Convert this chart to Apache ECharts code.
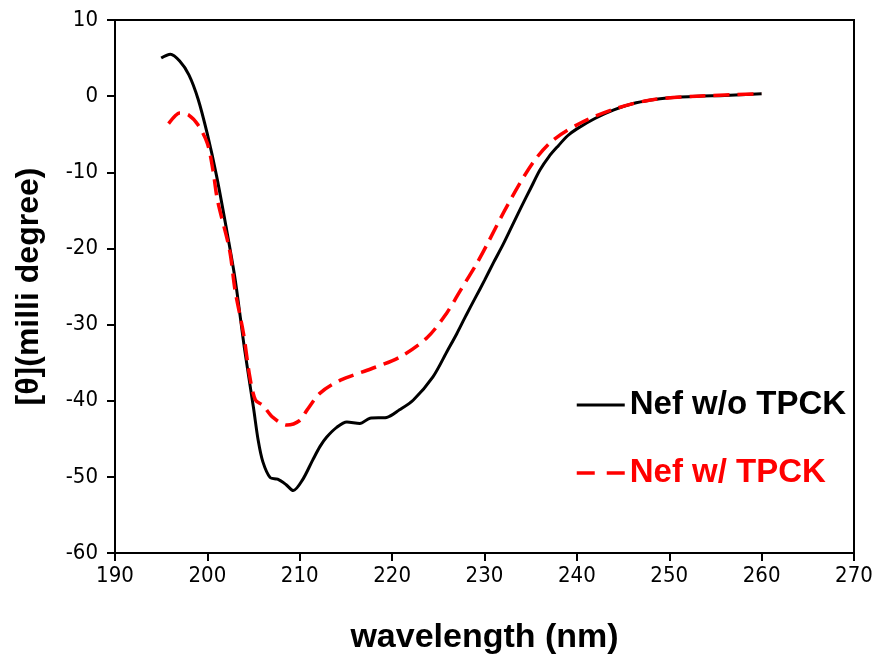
<!DOCTYPE html>
<html>
<head>
<meta charset="utf-8">
<script src="https://cdn.jsdelivr.net/npm/echarts@6/dist/echarts.min.js"></script>
<style>
html,body{margin:0;padding:0;background:#fff;}
#chart{width:883px;height:662px;}
</style>
</head>
<body>
<div id="chart"></div>
<script>
// Wavelength (nm) and ellipticity values
const blackWavelength = [195,196,197,198,199,200,201,202,203,204,205,205.5,206,206.8,207.6,208.5,209.3,210.3,211.4,212.2,212.9,214,215.1,216.5,217.6,219.4,220.8,222.3,224.4,226,227,228,229,230,231,232,233,234,235,236,237,238,239,240,242,244,246,248,250,253,256,260];
const blackValues = [5.0,5.5,4.6,2.8,-0.4,-5.0,-10.5,-17.0,-24.0,-33.0,-41.0,-45.2,-48.0,-50.1,-50.3,-51.0,-51.8,-50.4,-47.8,-46.0,-44.8,-43.5,-42.8,-43.0,-42.3,-42.2,-41.2,-39.9,-36.9,-33.4,-31.2,-28.8,-26.5,-24.2,-21.8,-19.5,-17.0,-14.5,-12.1,-9.7,-7.9,-6.5,-5.2,-4.3,-2.9,-1.8,-1.0,-0.5,-0.2,0.0,0.1,0.3];
const redWavelength = [195.8,196.5,197,198,199,200,200.6,201.1,202.4,203,203.9,204.6,205.2,206,207.1,208.6,210,210.8,212.2,214.4,217.3,220.8,223.8,225.9,227.3,229.2,230.4,232.5,235.2,237.4,240.6,244.3,248,253,260];
const redValues = [-3.6,-2.6,-2.2,-2.5,-3.8,-6.2,-9.7,-13.7,-20.2,-25.5,-31.1,-36.9,-39.9,-40.6,-42.2,-43.2,-42.6,-41.2,-39.0,-37.3,-36.0,-34.3,-31.7,-28.5,-25.7,-21.9,-19.2,-14.3,-8.8,-5.8,-3.4,-1.6,-0.5,0.0,0.3];
const seriesNames = ['Nef w/o TPCK', 'Nef w/ TPCK'];
const xTitle = 'wavelength (nm)';
const yTitle = '[θ](milli degree)';

function pairs(xs, ys){ return xs.map((x,i)=>[x, ys[i]]); }

const chart = echarts.init(document.getElementById('chart'), null, {renderer:'canvas'});
const tickFont = "'DejaVu Sans Condensed', 'Liberation Sans Narrow', 'Liberation Sans', Arial, sans-serif";
const boldFont = "'Liberation Sans', Arial, sans-serif";
chart.setOption({
  backgroundColor: '#fff',
  animation: false,
  grid: { left: 115, right: 29, top: 20, bottom: 109, show: true, borderColor: '#000', borderWidth: 2, backgroundColor: 'transparent' },
  xAxis: {
    type: 'value', min: 190, max: 270, interval: 10,
    name: xTitle, nameLocation: 'middle', nameGap: 68,
    nameTextStyle: { fontFamily: boldFont, fontWeight: 'bold', fontSize: 34, color: '#000' },
    axisLine: { show: true, onZero: false, lineStyle: { color: '#000', width: 2 } },
    axisTick: { show: true, inside: false, length: 8, lineStyle: { color: '#000', width: 2 } },
    axisLabel: { fontFamily: tickFont, fontSize: 22, color: '#000', margin: 12 },
    splitLine: { show: false }
  },
  yAxis: {
    type: 'value', min: -60, max: 10, interval: 10,
    name: yTitle, nameLocation: 'middle', nameGap: 70, nameRotate: 90,
    nameTextStyle: { fontFamily: boldFont, fontWeight: 'bold', fontSize: 32, color: '#000' },
    axisLine: { show: true, onZero: false, lineStyle: { color: '#000', width: 2 } },
    axisTick: { show: true, inside: false, length: 8, lineStyle: { color: '#000', width: 2 } },
    axisLabel: { fontFamily: tickFont, fontSize: 22, color: '#000', margin: 17 },
    splitLine: { show: false }
  },
  legend: {
    orient: 'vertical', left: 570, top: 382,
    itemWidth: 48, itemHeight: 14, itemGap: 32,
    itemStyle: { opacity: 0 },
    textStyle: { fontFamily: boldFont, fontWeight: 'bold', fontSize: 33, lineHeight: 36 },
    data: [
      { name: seriesNames[0], textStyle: { color: '#000' }, lineStyle: { color: '#000', width: 3, type: 'solid' } },
      { name: seriesNames[1], textStyle: { color: '#ff0000' }, lineStyle: { color: '#ff0000', width: 3.5, type: [18, 12] } }
    ]
  },
  series: [
    {
      name: seriesNames[0], type: 'line', showSymbol: false, symbol: 'none', smooth: 0.3,
      data: pairs(blackWavelength, blackValues),
      lineStyle: { color: '#000', width: 3 }, itemStyle: { color: '#000' }, z: 2
    },
    {
      name: seriesNames[1], type: 'line', showSymbol: false, symbol: 'none', smooth: 0.3,
      data: pairs(redWavelength, redValues),
      lineStyle: { color: '#ff0000', width: 3.5, type: [16, 8] }, itemStyle: { color: '#ff0000' }, z: 3
    }
  ]
});
</script>
</body>
</html>
